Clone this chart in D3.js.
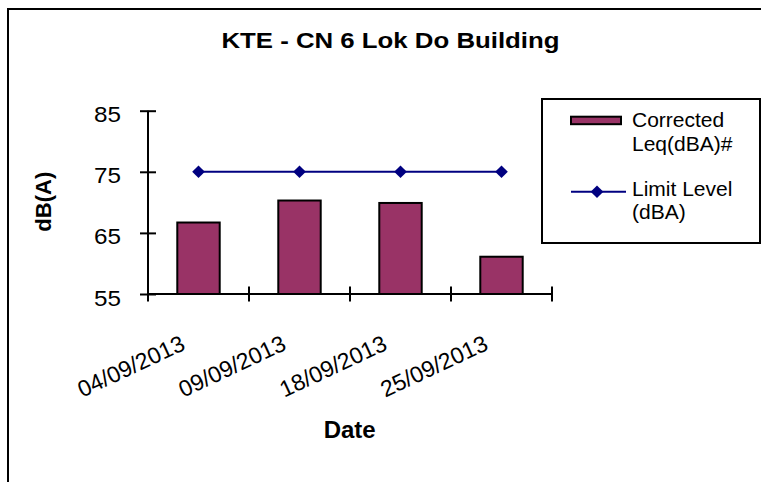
<!DOCTYPE html>
<html>
<head>
<meta charset="utf-8">
<script src="https://cdn.jsdelivr.net/npm/d3@7"></script>
<style>
  html, body { margin: 0; padding: 0; overflow: hidden; background: #fff; }
  svg { display: block; }
  text { font-family: Arial, "Liberation Sans", sans-serif; fill: #000; }
</style>
</head>
<body>
<div id="chart"></div>
<script>
var dates = ["04/09/2013", "09/09/2013", "18/09/2013", "25/09/2013"];
var leq = [66.7, 70.3, 69.9, 61.1];
var limit = [75, 75, 75, 75];
var yTicks = [55, 65, 75, 85];

var width = 761, height = 482;
var plot = {left: 148, right: 552, top: 110.7, bottom: 294};

var svg = d3.select("#chart").append("svg")
    .attr("width", width)
    .attr("height", height);

// outer chart frame: only the left and top edges are inside the picture
svg.append("path")
  .attr("d", "M8," + height + "V9H" + (width + 5))
  .attr("fill", "none")
  .attr("stroke", "#000")
  .attr("stroke-width", 2);

svg.append("text")
  .attr("x", 390.5).attr("y", 48)
  .attr("text-anchor", "middle")
  .attr("font-size", 22)
  .attr("font-weight", "bold")
  .attr("textLength", 338)
  .attr("lengthAdjust", "spacingAndGlyphs")
  .text("KTE - CN 6 Lok Do Building");

var x = d3.scaleBand()
  .domain(dates)
  .range([plot.left, plot.right])
  .padding(0);

var y = d3.scaleLinear()
  .domain([55, 85])
  .range([plot.bottom, plot.top]);

var barW = x.bandwidth() * 0.42;

// bars
svg.selectAll(".bar")
  .data(leq)
  .enter()
  .append("rect")
    .attr("class", "bar")
    .attr("x", function(d, i) { return x(dates[i]) + (x.bandwidth() - barW) / 2; })
    .attr("width", barW)
    .attr("y", function(d) { return y(d); })
    .attr("height", function(d) { return y(55) - y(d); })
    .attr("fill", "#993366")
    .attr("stroke", "#000")
    .attr("stroke-width", 2);

// y axis, ticks cross the line
var yAxis = d3.axisLeft(y)
  .tickValues(yTicks)
  .tickSize(8)
  .tickFormat(d3.format("d"));

var gy = svg.append("g")
  .attr("transform", "translate(" + plot.left + ",0)")
  .call(yAxis);
gy.select(".domain").remove();
gy.selectAll(".tick line")
  .attr("x1", 8)
  .attr("stroke", "#000")
  .attr("stroke-width", 2);
gy.selectAll(".tick text")
  .attr("x", -27)
  .attr("dy", 11)
  .attr("font-size", 22)
  .attr("textLength", 27)
  .attr("lengthAdjust", "spacingAndGlyphs")
  .style("font-family", "Arial, 'Liberation Sans', sans-serif")
  .attr("fill", "#000");
gy.append("line")
  .attr("x1", 0).attr("x2", 0)
  .attr("y1", y(85)).attr("y2", y(55))
  .attr("stroke", "#000")
  .attr("stroke-width", 2);

// x axis with ticks between categories
var edges = dates.map(function(d) { return x(d); }).concat([plot.right]);
var gx = svg.append("g");
gx.append("line")
  .attr("x1", plot.left).attr("x2", plot.right)
  .attr("y1", y(55)).attr("y2", y(55))
  .attr("stroke", "#000")
  .attr("stroke-width", 2);
gx.selectAll(".xtick")
  .data(edges)
  .enter()
  .append("line")
    .attr("class", "xtick")
    .attr("x1", function(d) { return d; })
    .attr("x2", function(d) { return d; })
    .attr("y1", y(55) - 7.5)
    .attr("y2", y(55) + 7.5)
    .attr("stroke", "#000")
    .attr("stroke-width", 2);

gx.selectAll(".xlabel")
  .data(dates)
  .enter()
  .append("text")
    .attr("class", "xlabel")
    .attr("text-anchor", "end")
    .attr("font-size", 23)
    .attr("transform", function(d) {
      return "translate(" + (x(d) + x.bandwidth() / 2 - 12) + ",349) rotate(-25)";
    })
    .text(function(d) { return d; });

// limit line
var line = d3.line()
  .x(function(d, i) { return x(dates[i]) + x.bandwidth() / 2; })
  .y(function(d) { return y(d); });

svg.append("path")
  .datum(limit)
  .attr("d", line)
  .attr("fill", "none")
  .attr("stroke", "#000080")
  .attr("stroke-width", 2);

var diamond = d3.symbol().type(d3.symbolSquare).size(80);

svg.selectAll(".marker")
  .data(limit)
  .enter()
  .append("path")
    .attr("class", "marker")
    .attr("d", diamond)
    .attr("transform", function(d, i) {
      return "translate(" + (x(dates[i]) + x.bandwidth() / 2) + "," + y(d) + ") rotate(45)";
    })
    .attr("fill", "#000080");

// axis titles
svg.append("text")
  .attr("transform", "translate(51,201.7) rotate(-90)")
  .attr("text-anchor", "middle")
  .attr("font-size", 22)
  .attr("font-weight", "bold")
  .text("dB(A)");

svg.append("text")
  .attr("x", 349.7).attr("y", 437.5)
  .attr("text-anchor", "middle")
  .attr("font-size", 24)
  .attr("font-weight", "bold")
  .text("Date");

// legend
var legend = svg.append("g");
legend.append("rect")
  .attr("x", 542).attr("y", 99)
  .attr("width", 218).attr("height", 144)
  .attr("fill", "#fff")
  .attr("stroke", "#000")
  .attr("stroke-width", 2);
legend.append("rect")
  .attr("x", 571).attr("y", 116.7)
  .attr("width", 50).attr("height", 7.5)
  .attr("fill", "#993366")
  .attr("stroke", "#000")
  .attr("stroke-width", 2);
legend.append("line")
  .attr("x1", 571).attr("x2", 626)
  .attr("y1", 191.7).attr("y2", 191.7)
  .attr("stroke", "#000080")
  .attr("stroke-width", 2);
legend.append("path")
  .attr("d", diamond)
  .attr("transform", "translate(597,191.7) rotate(45)")
  .attr("fill", "#000080");

var legendLines = [
  {t: "Corrected", y: 127},
  {t: "Leq(dBA)#", y: 150.5},
  {t: "Limit Level", y: 196},
  {t: "(dBA)", y: 218.5}
];
legend.selectAll(".ltext")
  .data(legendLines)
  .enter()
  .append("text")
    .attr("class", "ltext")
    .attr("x", 632)
    .attr("y", function(d) { return d.y; })
    .attr("font-size", 21)
    .text(function(d) { return d.t; });
</script>
</body>
</html>
